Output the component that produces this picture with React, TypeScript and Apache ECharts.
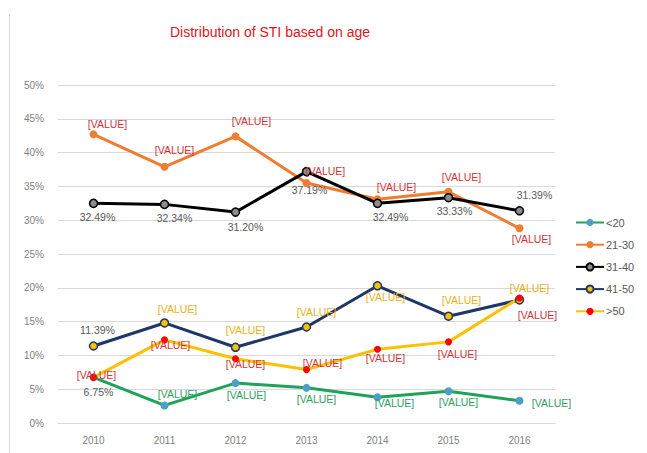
import React, { useEffect, useRef } from "react";
import * as echarts from "echarts";

// ---- data ----
const years = ["2010", "2011", "2012", "2013", "2014", "2015", "2016"];
const seriesNames = ["<20", "21-30", "31-40", "41-50", ">50"];
const valuesLt20 = [6.75, 2.6, 5.9, 5.2, 3.8, 4.7, 3.3];
const values21to30 = [42.7, 37.9, 42.4, 35.5, 33.1, 34.2, 28.8];
const values31to40 = [32.49, 32.34, 31.2, 37.19, 32.49, 33.33, 31.39];
const values41to50 = [11.39, 14.8, 11.2, 14.2, 20.3, 15.8, 18.2];
const valuesGt50 = [6.75, 12.3, 9.5, 7.9, 10.9, 12.0, 18.5];

const labelsLt20 = ["6.75%", "[VALUE]", "[VALUE]", "[VALUE]", "[VALUE]", "[VALUE]", "[VALUE]"];
const labels21to30 = ["[VALUE]", "[VALUE]", "[VALUE]", "[VALUE]", "[VALUE]", "[VALUE]", "[VALUE]"];
const labels31to40 = ["32.49%", "32.34%", "31.20%", "37.19%", "32.49%", "33.33%", "31.39%"];
const labels41to50 = ["11.39%", "[VALUE]", "[VALUE]", "[VALUE]", "[VALUE]", "[VALUE]", "[VALUE]"];
const labelsGt50 = ["[VALUE]", "[VALUE]", "[VALUE]", "[VALUE]", "[VALUE]", "[VALUE]", "[VALUE]"];

const yTickMax = 50;
const yTickStep = 5;

// ---- label placement (styling) ----
const offLt20 = [[5, 15], [13, -11], [11, 12], [10, 11], [17, 6], [10, 11], [32, 2]];
const off21to30 = [[14, -10], [10, -17], [16, -15], [19, -12], [19, -12], [13, -15], [12, 11]];
const off31to40 = [[4, 14], [10, 14], [10, 15], [3, 18], [13, 14], [6, 13], [15, -16]];
const off41to50 = [[4, -16], [13, -14], [10, -17], [10, -15], [8, 11], [13, -16], [10, -12]];
const offGt50 = [[3, -2], [6, 5], [10, 5], [16, -7], [8, 9], [9, 12], [18, 17]];

const GRAY_LABEL = "#595959";
const RED_LABEL = "#d0343a";
const GOLD_LABEL = "#e8b21c";
const GREEN_LABEL = "#2f9e62";

function buildData(values: number[], texts: string[], offsets: number[][], color: string) {
  return values.map((v, i) => ({
    value: v,
    label: {
      show: true,
      position: "inside",
      offset: offsets[i],
      formatter: texts[i],
      color: /%$/.test(texts[i]) ? GRAY_LABEL : color,
    },
  }));
}

export default function App() {
  const ref = useRef<HTMLDivElement>(null);
  useEffect(() => {
    if (!ref.current) return;
    const chart = echarts.init(ref.current, undefined, { renderer: "svg" });
    const labelFont = { fontSize: 10.5, fontFamily: "Liberation Sans" };
    const mk = (
      name: string,
      values: number[],
      texts: string[],
      offs: number[][],
      labelColor: string,
      lineColor: string,
      fill: string,
      border: string | null,
      size: number
    ) => ({
      name,
      type: "line",
      data: buildData(values, texts, offs, labelColor),
      symbol: "circle",
      symbolSize: size,
      lineStyle: { color: lineColor, width: 3 },
      itemStyle: border
        ? { color: fill, borderColor: border, borderWidth: 1.5 }
        : { color: fill, borderWidth: 0 },
      label: { ...labelFont },
      emphasis: { disabled: true },
    });
    chart.setOption({
      animation: false,
      backgroundColor: "#ffffff",
      title: {
        text: "Distribution of STI based on age",
        left: 265,
        textAlign: "center",
        top: 20,
        textStyle: {
          color: "#e0141e",
          fontSize: 14,
          fontWeight: "normal",
          fontFamily: "'Liberation Sans Narrow', 'Liberation Sans', sans-serif",
        },
      },
      graphic: [
        {
          type: "line",
          shape: { x1: 9.5, y1: 14, x2: 9.5, y2: 453 },
          style: { stroke: "#d9d9d9", lineWidth: 1 },
        },
      ],
      legend: {
        orient: "vertical",
        left: 570,
        top: 212,
        itemWidth: 28,
        itemHeight: 9,
        itemGap: 11.2,
        data: seriesNames,
        textStyle: { color: GRAY_LABEL, fontSize: 11, fontFamily: "Liberation Sans", padding: [0, 0, 0, -3] },
      },
      grid: { left: 58, right: 92, top: 85, bottom: 30, containLabel: false },
      xAxis: {
        type: "category",
        data: years,
        boundaryGap: true,
        axisLine: { lineStyle: { color: "#d9d9d9" } },
        axisTick: { show: false },
        axisLabel: { color: "#7f7f7f", fontSize: 10, fontFamily: "Liberation Sans", margin: 12 },
      },
      yAxis: {
        type: "value",
        min: 0,
        max: yTickMax,
        interval: yTickStep,
        axisLine: { show: false },
        axisTick: { show: false },
        splitLine: { lineStyle: { color: "#d9d9d9" } },
        axisLabel: {
          color: "#7f7f7f",
          fontSize: 10,
          fontFamily: "Liberation Sans",
          margin: 14,
          formatter: (v: number) => `${v}%`,
        },
      },
      series: [
        mk(seriesNames[0], valuesLt20, labelsLt20, offLt20, GREEN_LABEL, "#1fa35a", "#4aa0c6", null, 8),
        mk(seriesNames[1], values21to30, labels21to30, off21to30, RED_LABEL, "#ed7d31", "#ed7d31", null, 8),
        mk(seriesNames[2], values31to40, labels31to40, off31to40, GRAY_LABEL, "#000000", "#8c8c8c", "#000000", 8),
        mk(seriesNames[3], values41to50, labels41to50, off41to50, GOLD_LABEL, "#1f3668", "#ffc000", "#1f3668", 8),
        mk(seriesNames[4], valuesGt50, labelsGt50, offGt50, RED_LABEL, "#ffc000", "#ff0000", null, 7),
      ],
    });
    return () => chart.dispose();
  }, []);
  return (
    <div
      ref={ref}
      style={{ position: "absolute", left: 0, top: 0, width: 647, height: 453 }}
    />
  );
}
